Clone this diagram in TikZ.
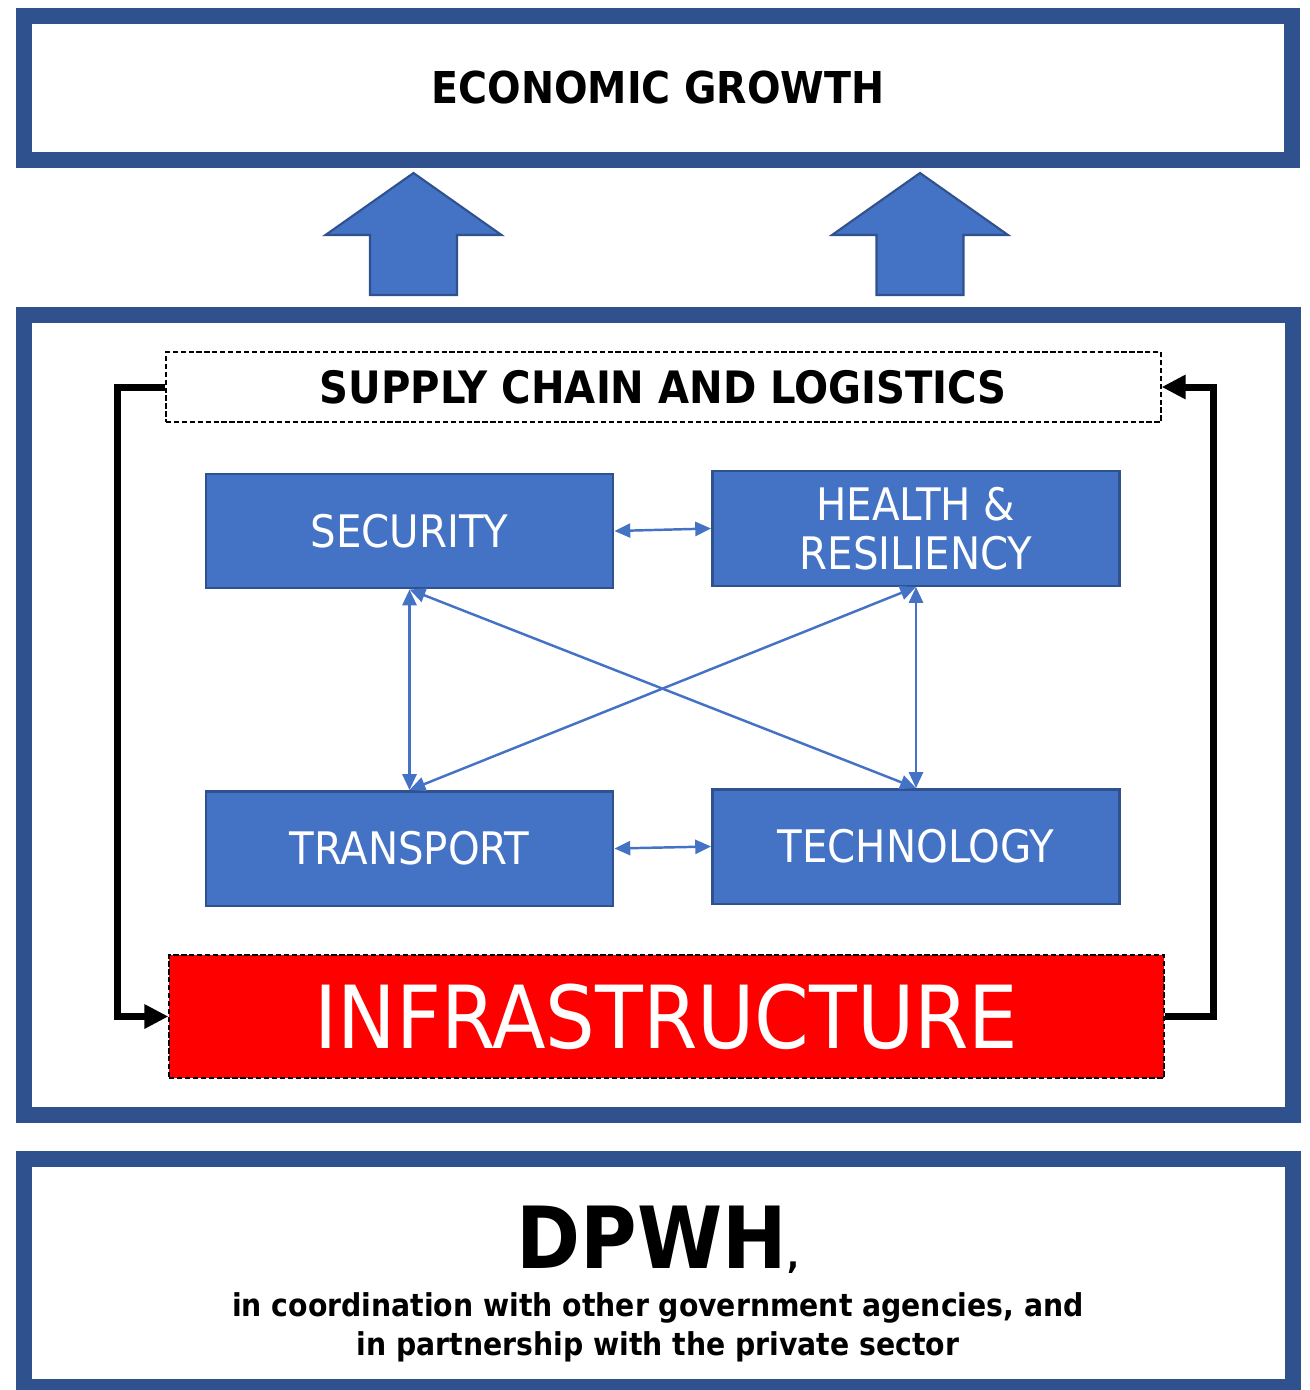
\documentclass[tikz,border=0pt]{standalone}
\usepackage{fontspec}
\setmainfont{DejaVu Sans Condensed}
\usetikzlibrary{arrows.meta,positioning}
\definecolor{frameblue}{HTML}{2F528F}
\definecolor{boxblue}{HTML}{4472C4}
\definecolor{infrared}{HTML}{FF0000}

\begin{document}
\begin{tikzpicture}
[x=0.02cm, y=-0.02cm,
 frame/.style={rectangle, draw=frameblue, line width=0.32cm, inner sep=0pt},
 area/.style={rectangle, draw=frameblue, fill=boxblue, line width=1.4pt, inner sep=0pt, minimum width=8.15cm, minimum height=2.29cm, text=white, font=\fontsize{25.5}{28}\selectfont, align=center},
 link/.style={{Triangle[length=9pt,width=8pt]}-{Triangle[length=9pt,width=8pt]}, boxblue, line width=1.4pt},
 loop/.style={-{Triangle[length=0.48cm,width=0.46cm]}, line width=0.14cm}]

\useasboundingbox (0,0) rectangle (1309,1390);

%Frames
\node[frame, minimum width=25.36cm, minimum height=2.89cm, font=\bfseries\fontsize{25}{26}\selectfont] (growth) at (658,88) {ECONOMIC GROWTH};
\node[frame, minimum width=25.38cm, minimum height=16cm] (pillars) at (658.5,715) {};
\node[frame, minimum width=25.38cm, minimum height=4.56cm] (agency) at (658.5,1273) {};

%Nodes
\node[rectangle, draw, dash pattern=on 3pt off 1.5pt, line width=0.8pt, inner sep=0pt, minimum width=19.9cm, minimum height=1.4cm, font=\bfseries\fontsize{25.4}{27}\selectfont] (supply) at (663.5,387) {SUPPLY CHAIN AND LOGISTICS};
\node[area] (security) at (409.5,531) {SECURITY};
\node[area] (health) at (916,528.5) {HEALTH \&\\RESILIENCY};
\node[area] (transport) at (409.5,848.5) {TRANSPORT};
\node[area] (technology) at (916,846.5) {TECHNOLOGY};
\node[rectangle, draw, fill=infrared, dash pattern=on 3pt off 1.5pt, line width=0.8pt, inner sep=0pt, minimum width=19.9cm, minimum height=2.46cm, text=white, font=\fontsize{49.5}{50}\selectfont] (infra) at (666.5,1016.5) {INFRASTRUCTURE};
\node[font=\bfseries\fontsize{48.8}{50}\selectfont] (dpwh) at (658,1240) {DPWH{\fontsize{20}{20}\selectfont,}};
\node[font=\bfseries\fontsize{17.9}{22}\selectfont, align=center] (partner) at (658,1327) {in coordination with other government agencies, and\\in partnership with the private sector};

%Block arrows
\foreach \ax in {413.5,920}
  \draw[fill=boxblue, draw=frameblue, line width=1.2pt] (\ax,173) -- (\ax+88,235) -- (\ax+43.5,235) -- (\ax+43.5,295) -- (\ax-43.5,295) -- (\ax-43.5,235) -- (\ax-88,235) -- cycle;

%Lines
\draw[link] (security.east) -- (health.west);
\draw[link] (transport.east) -- (technology.west);
\draw[link] (security.south) -- (transport.north);
\draw[link] (health.south) -- (technology.north);
\draw[link] (security.south) -- (technology.north);
\draw[link] (health.south) -- (transport.north);
\draw[loop] (supply.west) -- ++(-48,0) |- (infra.west);
\draw[loop] (infra.east) -- ++(49,0) |- (supply.east);

\end{tikzpicture}
\end{document}
